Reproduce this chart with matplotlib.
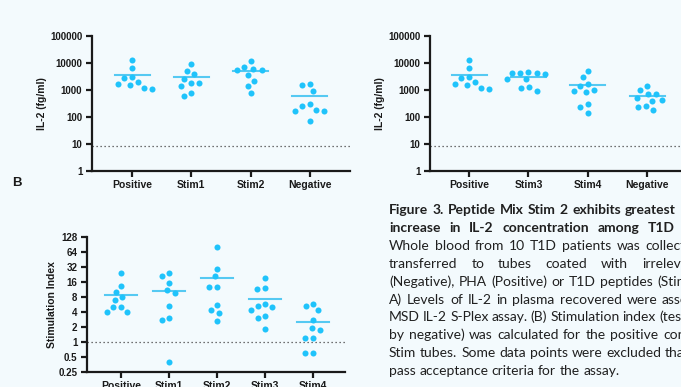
import numpy as np
import matplotlib
matplotlib.use('Agg')
import matplotlib.pyplot as plt

# ---- data ----
cats_a = ['Positive', 'Stim1', 'Stim2', 'Negative']
cats_b = ['Positive', 'Stim3', 'Stim4', 'Negative']
cats_si = ['Positive', 'Stim1', 'Stim2', 'Stim3', 'Stim4']

il2_positive = [12900, 6300, 3100, 2800, 1900, 1700, 1550, 1100, 1150]
il2_stim1 = [8900, 5000, 3900, 2600, 1850, 1750, 1350, 790, 610]
il2_stim2 = [11500, 7250, 5600, 5950, 5300, 3550, 2200, 1400, 740]
il2_negative_a = [1700, 1480, 890, 250, 300, 170, 170, 185, 72]
il2_stim3 = [3800, 4400, 4400, 4400, 4750, 2450, 2600, 940, 1300, 1200]
il2_stim4 = [5150, 2900, 1700, 1450, 940, 820, 1020, 310, 225, 135]
il2_negative_b = [970, 1400, 700, 500, 700, 410, 380, 185, 245, 225]

si_positive = [24.4, 13.2, 10.1, 8.0, 7.1, 5.0, 5.0, 4.05, 4.05]
si_stim1 = [24.4, 21.6, 15.4, 10.9, 9.8, 5.35, 3.0, 2.7, 0.40]
si_stim2 = [83, 29.8, 21.2, 12.9, 12.9, 5.6, 4.4, 3.9, 2.6]
si_stim3 = [19.6, 12.3, 11.6, 5.7, 5.0, 5.2, 4.3, 3.3, 3.0, 1.8]
si_stim4 = [5.2, 5.8, 4.4, 2.7, 1.7, 1.9, 1.2, 1.2, 0.59, 0.59]

il2_ticks = [1, 10, 100, 1000, 10000, 100000]
si_ticks = [0.25, 0.5, 1, 2, 4, 8, 16, 32, 64, 128]
si_tick_labels = ['0.25', '0.5', '1', '2', '4', '8', '16', '32', '64', '128']
lloq_il2 = 8
si_cutoff = 1

caption = [
  ("Figure 3. Peptide Mix Stim 2 exhibits greatest", True),
  ("increase in IL-2 concentration among T1D", True),
  ("Whole blood from 10 T1D patients was collected", False),
  ("transferred to tubes coated with irrelevant", False),
  ("(Negative), PHA (Positive) or T1D peptides (Stim", False),
  ("A) Levels of IL-2 in plasma recovered were assessed", False),
  ("MSD IL-2 S-Plex assay. (B) Stimulation index (test", False),
  ("by negative) was calculated for the positive control", False),
  ("Stim tubes. Some data points were excluded that", False),
  ("pass acceptance criteria for the assay.", False),
]
# x (px) where the last word of each justified line starts
last_word_x = [625, 648, 645, 642, 657, 662, 659, 663, 665, None]

W, H = 681, 387
BG = '#f3fafd'
DOT = '#1fc3fb'
MEAN = '#55c9f2'
INK = '#1a1a1a'

plt.rcParams['font.family'] = ['Liberation Sans', 'DejaVu Sans']
fig = plt.figure(figsize=(W / 100, H / 100), dpi=100, facecolor=BG)


def px_axes(x0, x1, ytop, ybot):
  return fig.add_axes([x0 / W, 1 - ybot / H, (x1 - x0) / W, (ybot - ytop) / H])


def swarm(ax, xc, vals, d):
  pts = ax.transData.transform(np.column_stack([np.full(len(vals), xc), vals]))
  order = np.argsort(-np.asarray(vals), kind='stable')
  placed = []
  off = np.zeros(len(vals))
  for i in order:
    y = pts[i, 1]
    near = [(px, py) for px, py in placed if abs(py - y) < d]
    cands = [0.0]
    for px, py in near:
      w = np.sqrt(d * d - (py - y) ** 2)
      cands += [px - w, px + w]
    cands.sort(key=lambda c: (abs(c), c))
    for c in cands:
      if all((c - px) ** 2 + (y - py) ** 2 >= d * d - 1e-6 for px, py in near):
        break
    placed.append((c, y))
    off[i] = c
  back = ax.transData.inverted().transform(np.column_stack([pts[:, 0] + off, pts[:, 1]]))
  return back[:, 0]


def style(ax, cats, xlim):
  ax.set_facecolor(BG)
  ax.patch.set_alpha(0)
  for s in ['top', 'right']:
    ax.spines[s].set_visible(False)
  for s in ['left', 'bottom']:
    ax.spines[s].set_linewidth(1.6)
    ax.spines[s].set_color(INK)
  ax.set_xlim(*xlim)
  ax.set_xticks(range(len(cats)))
  ax.set_xticklabels(cats, fontsize=7.5, fontweight='bold', color=INK)
  ax.tick_params(axis='both', length=4.5, width=1.6, color=INK, pad=2.5)
  ax.tick_params(axis='y', labelsize=7, labelcolor=INK)
  ax.tick_params(axis='y', which='minor', left=False)
  for lab in ax.get_yticklabels():
    lab.set_fontweight('bold')


def draw_groups(ax, groups, half, d):
  for i, vals in enumerate(groups):
    xs = swarm(ax, i, vals, d)
    ax.scatter(xs, vals, s=19, color=DOT, linewidths=0, zorder=3, clip_on=False)
    ax.plot([i - half, i + half], [np.mean(vals)] * 2, color=MEAN, lw=1.5, zorder=2)


# ---- A left ----
ax1 = px_axes(92, 350, 36, 170.7)
ax1.set_yscale('log')
ax1.set_ylim(1, 100000)
ax1.set_yticks(il2_ticks)
ax1.set_yticklabels([str(t) for t in il2_ticks])
style(ax1, cats_a, (-0.675, 3.676))
ax1.set_ylabel('IL-2 (fg/ml)', fontsize=7.5, fontweight='bold', color=INK, labelpad=2)
ax1.axhline(lloq_il2, color='#444444', lw=0.9, ls=(0, (1, 2.2)), zorder=1)
draw_groups(ax1, [il2_positive, il2_stim1, il2_stim2, il2_negative_a], 0.295, 8.2)

# ---- A right ----
ax2 = px_axes(430, 688, 36, 170.7)
ax2.set_yscale('log')
ax2.set_ylim(1, 100000)
ax2.set_yticks(il2_ticks)
ax2.set_yticklabels([str(t) for t in il2_ticks])
style(ax2, cats_b, (-0.66, 3.69))
ax2.set_ylabel('IL-2 (fg/ml)', fontsize=7.5, fontweight='bold', color=INK, labelpad=2)
ax2.axhline(lloq_il2, color='#444444', lw=0.9, ls=(0, (1, 2.2)), zorder=1)
draw_groups(ax2, [il2_positive, il2_stim3, il2_stim4, il2_negative_b], 0.295, 8.2)

# ---- B ----
ax3 = px_axes(87, 345, 237.3, 371.7)
ax3.set_yscale('log', base=2)
ax3.set_ylim(0.25, 128)
ax3.set_yticks(si_ticks)
ax3.set_yticklabels(si_tick_labels)
style(ax3, cats_si, (-0.708, 4.667))
ax3.set_ylabel('Stimulation Index', fontsize=7.5, fontweight='bold', color=INK, labelpad=1)
ax3.axhline(si_cutoff, color='#444444', lw=0.9, ls=(0, (1, 2.2)), zorder=1)
draw_groups(ax3, [si_positive, si_stim1, si_stim2, si_stim3, si_stim4], 0.33, 7.6)

fig.text(12 / W, 1 - 183 / H, 'B', fontsize=9.5, fontweight='bold', color=INK,
         ha='left', va='center')

# ---- caption, justified word by word ----
renderer = fig.canvas.get_renderer()
x0 = 389
fs = 10
probe1 = fig.text(0, 0, 'a a', family=['Lato'], fontsize=fs)
probe2 = fig.text(0, 0, 'aa', family=['Lato'], fontsize=fs)
space = probe1.get_window_extent(renderer).width - probe2.get_window_extent(renderer).width
probe1.remove()
probe2.remove()
for k, (line, bold) in enumerate(caption):
  base = 214 + 17.9 * k
  words = line.split(' ')
  texts = []
  for wd in words:
    t = fig.text(0, 1 - base / H, wd, family=['Lato', 'DejaVu Sans'], fontsize=fs,
                 fontweight='bold' if bold else 'normal', color='#202020', va='baseline')
    texts.append(t)
  widths = [t.get_window_extent(renderer).width for t in texts]
  if last_word_x[k] is not None and len(words) > 1:
    gap = (last_word_x[k] - x0 - sum(widths[:-1])) / (len(words) - 1)
  else:
    gap = space
  x = x0
  for t, w in zip(texts, widths):
    t.set_x(x / W)
    x += w + gap

fig.savefig('out.png', dpi=100, facecolor=BG)
